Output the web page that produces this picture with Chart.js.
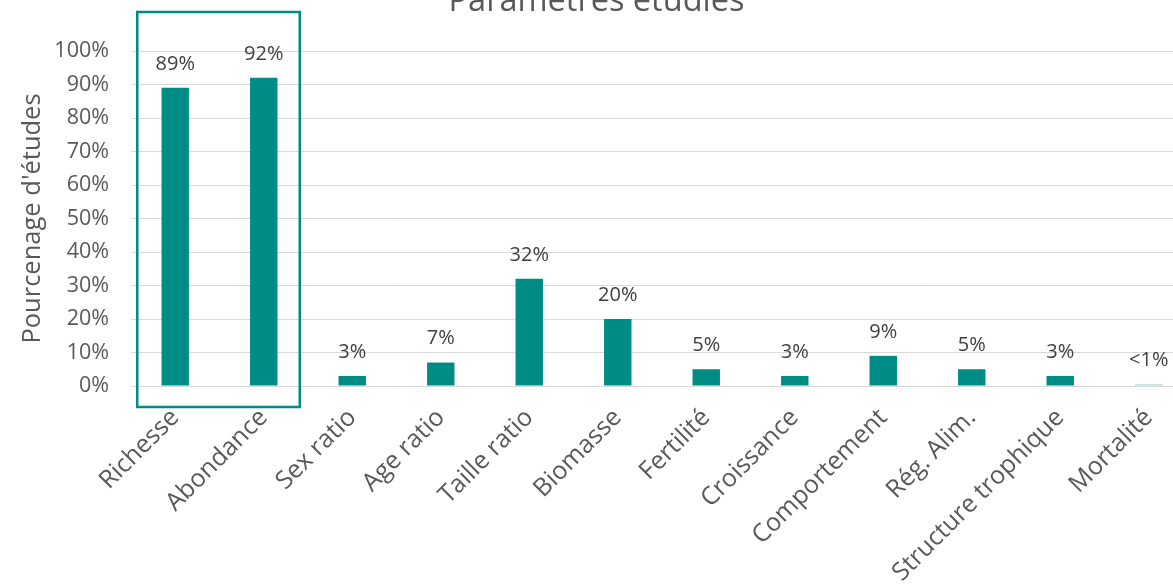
<!DOCTYPE html>
<html>
<head>
<meta charset="utf-8">
<script src="https://cdn.jsdelivr.net/npm/chart.js@4/dist/chart.umd.min.js"></script>
<style>
  html, body { margin: 0; padding: 0; background: #fff; overflow: hidden; }
  body { width: 1173px; height: 588px; position: relative; }
  #chart { position: absolute; left: 0; top: -30px; }
</style>
</head>
<body>
<canvas id="chart" width="1200" height="618"></canvas>
<script>
const categories = ["Richesse", "Abondance", "Sex ratio", "Age ratio", "Taille ratio", "Biomasse",
  "Fertilité", "Croissance", "Comportement", "Rég. Alim.", "Structure trophique", "Mortalité"];
const percentages = [89, 92, 3, 7, 32, 20, 5, 3, 9, 5, 3, 0.5];
const yTicks = [0, 10, 20, 30, 40, 50, 60, 70, 80, 90, 100];

const teal = "#008c86";
const tealPale = "#a9d6d3";
const textGrey = "#595959";

function pctLabel(v) {
  return v < 1 ? "<1%" : v + "%";
}

// value labels above each bar
const barLabels = {
  id: "barLabels",
  afterDatasetsDraw(chart) {
    const ctx = chart.ctx;
    const meta = chart.getDatasetMeta(0);
    ctx.save();
    ctx.font = "20px 'Open Sans'";
    ctx.fillStyle = "#404040";
    ctx.textAlign = "center";
    ctx.textBaseline = "bottom";
    meta.data.forEach((bar, i) => {
      ctx.fillText(pctLabel(percentages[i]), bar.x, bar.y - 14);
    });
    ctx.restore();
  }
};

// frame around the first two categories
const highlightBox = {
  id: "highlightBox",
  afterDraw(chart) {
    const x = chart.scales.x, y = chart.scales.y;
    const ctx = chart.ctx;
    const left = x.getPixelForValue(0) - 38;
    const right = x.getPixelForValue(1) + 36;
    const top = chart.chartArea.top - 39;
    const bottom = y.getPixelForValue(0) + 21;
    ctx.save();
    ctx.strokeStyle = teal;
    ctx.lineWidth = 2.5;
    ctx.strokeRect(left, top, right - left, bottom - top);
    ctx.restore();
  }
};

new Chart(document.getElementById("chart"), {
  type: "bar",
  data: {
    labels: categories,
    datasets: [{
      data: percentages,
      backgroundColor: percentages.map(v => v < 1 ? tealPale : teal),
      categoryPercentage: 1,
      barPercentage: 0.31
    }]
  },
  options: {
    responsive: false,
    devicePixelRatio: 1,
    animation: false,
    layout: { padding: { left: 0, right: 7, top: 0, bottom: 0 } },
    plugins: {
      legend: { display: false },
      tooltip: { enabled: false },
      title: {
        display: true,
        text: "Paramètres étudiés",
        color: textGrey,
        font: { family: "'Open Sans'", size: 32.5, weight: "normal" },
        padding: { top: 12, bottom: 30 }
      }
    },
    scales: {
      x: {
        grid: { display: false },
        border: { display: true, color: "#d9d9d9", width: 1 },
        ticks: {
          color: textGrey,
          font: { family: "'Open Sans'", size: 25 },
          minRotation: 45,
          maxRotation: 45,
          padding: 9,
          autoSkip: false
        },
        afterFit(scale) { scale.height = 202; }
      },
      y: {
        min: 0,
        max: 100,
        afterBuildTicks(scale) { scale.ticks = yTicks.map(v => ({ value: v })); },
        grid: { color: "#d9d9d9", drawTicks: false },
        border: { display: false },
        ticks: {
          color: textGrey,
          font: { family: "'Open Sans'", size: 21.5 },
          padding: 22,
          callback: v => v + "%"
        },
        title: {
          display: true,
          text: "Pourcenage d'études",
          color: textGrey,
          font: { family: "'Open Sans'", size: 25.5 },
          padding: { top: 17, bottom: 0 }
        },
        afterFit(scale) { scale.width = 131; }
      }
    }
  },
  plugins: [barLabels, highlightBox]
});
</script>
</body>
</html>
